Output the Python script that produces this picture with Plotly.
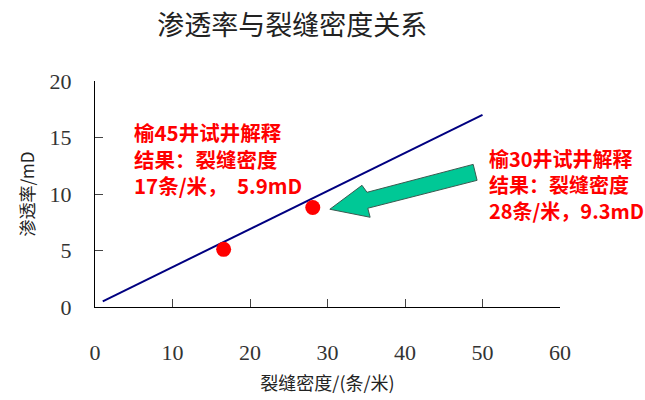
import plotly.graph_objects as go

# Data
line_x = [1, 50]
line_y = [0.5, 17.0]
well_x = [16.6, 28.1]
well_y = [5.1, 8.8]
x_ticks = [0, 10, 20, 30, 40, 50, 60]
y_ticks = [0, 5, 10, 15, 20]

title_text = "渗透率与裂缝密度关系"
x_title = "裂缝密度/(条/米)"
y_title = "渗透率/mD"
note1 = "榆45井试井解释<br>结果：裂缝密度<br>17条/米，  5.9mD"
note2 = "榆30井试井解释<br>结果：裂缝密度<br>28条/米，9.3mD"

# arrow outline (data coords)
arrow_x = [30.3, 34.45, 35.1, 48.8, 49.3, 35.2, 35.5]
arrow_y = [8.65, 10.77, 10.15, 12.62, 11.21, 8.74, 7.94]

fig = go.Figure()
fig.add_trace(go.Scatter(x=line_x, y=line_y, mode="lines",
                         line=dict(color="#000080", width=2), showlegend=False))
fig.add_trace(go.Scatter(x=well_x, y=well_y, mode="markers",
                         marker=dict(color="#FF0000", size=15), showlegend=False))

path = "M " + " L ".join(f"{a},{b}" for a, b in zip(arrow_x, arrow_y)) + " Z"
fig.add_shape(type="path", path=path, xref="x", yref="y",
              fillcolor="#00C896", line=dict(color="#3a5a50", width=1))

font_tick = dict(family="Liberation Serif, Times New Roman, serif", size=22, color="#333333")
cjk = "Noto Sans CJK SC"

fig.update_layout(
    width=645, height=400,
    margin=dict(l=95, r=85, t=81, b=93),
    paper_bgcolor="white", plot_bgcolor="white",
    title=dict(text=title_text, x=0.453, xref="container", xanchor="center",
               y=0.935, yref="container", yanchor="middle",
               font=dict(family=cjk, size=27, color="#222222")),
    xaxis=dict(range=[0, 60], tickvals=x_ticks, ticks="inside", ticklen=8,
               showline=True, linecolor="black", linewidth=1, showgrid=False,
               zeroline=False, tickfont=font_tick, ticklabelstandoff=26,
               automargin=False,
               title=dict(text=x_title, font=dict(family=cjk, size=18, color="#222222"),
                          standoff=12)),
    yaxis=dict(range=[0, 20], tickvals=y_ticks, ticks="inside", ticklen=8,
               showline=True, linecolor="black", linewidth=1, showgrid=False,
               zeroline=False, tickfont=font_tick, ticklabelstandoff=18,
               automargin=False,
               title=dict(text=y_title, font=dict(family=cjk, size=17, color="#222222"),
                          standoff=10)),
)

fig.add_annotation(text=note1, xref="paper", yref="paper", x=0.0796, y=0.659,
                   xanchor="left", yanchor="middle", align="left", showarrow=False,
                   font=dict(family=cjk, size=20.5, color="#FF0000", weight="bold"))
fig.add_annotation(text=note2, xref="paper", yref="paper", x=0.843, y=0.544,
                   xanchor="left", yanchor="middle", align="left", showarrow=False,
                   font=dict(family=cjk, size=20, color="#FF0000", weight="bold"))

fig.write_html("out.html", config={"displayModeBar": False},
               post_script="document.body.style.margin='0';document.body.style.padding='0';")
